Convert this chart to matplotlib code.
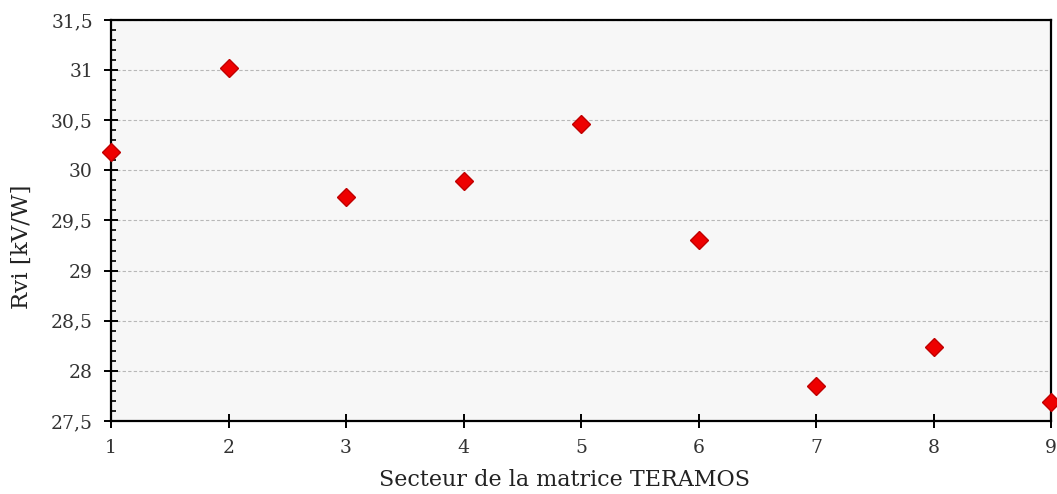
import matplotlib
matplotlib.use("Agg")
import matplotlib.pyplot as plt
from matplotlib.ticker import MultipleLocator, FuncFormatter

# Rvi par secteur de la matrice
secteurs = [1, 2, 3, 4, 5, 6, 7, 8, 9]
rvi = [30.18, 31.02, 29.73, 29.89, 30.46, 29.30, 27.85, 28.24, 27.69]

plt.rcParams['font.family'] = ['DejaVu Serif']

fig = plt.figure(figsize=(10.57, 4.94), dpi=100)
ax = fig.add_axes([0.105, 0.148, 0.8895, 0.8115])
ax.set_facecolor('#f7f7f7')

ax.plot(secteurs, rvi, linestyle='none', marker='D', markersize=9.5,
        markerfacecolor='#ee0000', markeredgecolor='#c00000', markeredgewidth=1,
        clip_on=False, zorder=5)

ax.set_xlim(1, 9)
ax.set_ylim(27.5, 31.5)
ax.xaxis.set_major_locator(MultipleLocator(1))
ax.yaxis.set_major_locator(MultipleLocator(0.5))
ax.yaxis.set_minor_locator(MultipleLocator(0.1))
ax.yaxis.set_major_formatter(FuncFormatter(lambda v, p: ('%g' % v).replace('.', ',')))

ax.grid(axis='y', which='major', linestyle=(0, (3, 2)), color='#b8b8b8', linewidth=0.8)
ax.set_axisbelow(True)

for s in ax.spines.values():
    s.set_linewidth(1.6)
    s.set_color('black')

ax.tick_params(axis='both', which='major', direction='inout', length=10, width=1.4,
               labelsize=13.5, labelcolor='#333333')
ax.tick_params(axis='y', which='minor', direction='in', length=3.5, width=1.2)
ax.tick_params(axis='x', pad=8)
ax.tick_params(axis='y', pad=8)

ax.set_xlabel('Secteur de la matrice TERAMOS', fontsize=16, color='#222222')
ax.set_ylabel('Rvi [kV/W]', fontsize=16.5, color='#222222')
ax.xaxis.set_label_coords(0.482, -0.147)
ax.xaxis.label.set_va('center')
ax.yaxis.set_label_coords(-0.095, 0.434)
ax.yaxis.label.set_va('center')

fig.savefig('out.png', dpi=100)
